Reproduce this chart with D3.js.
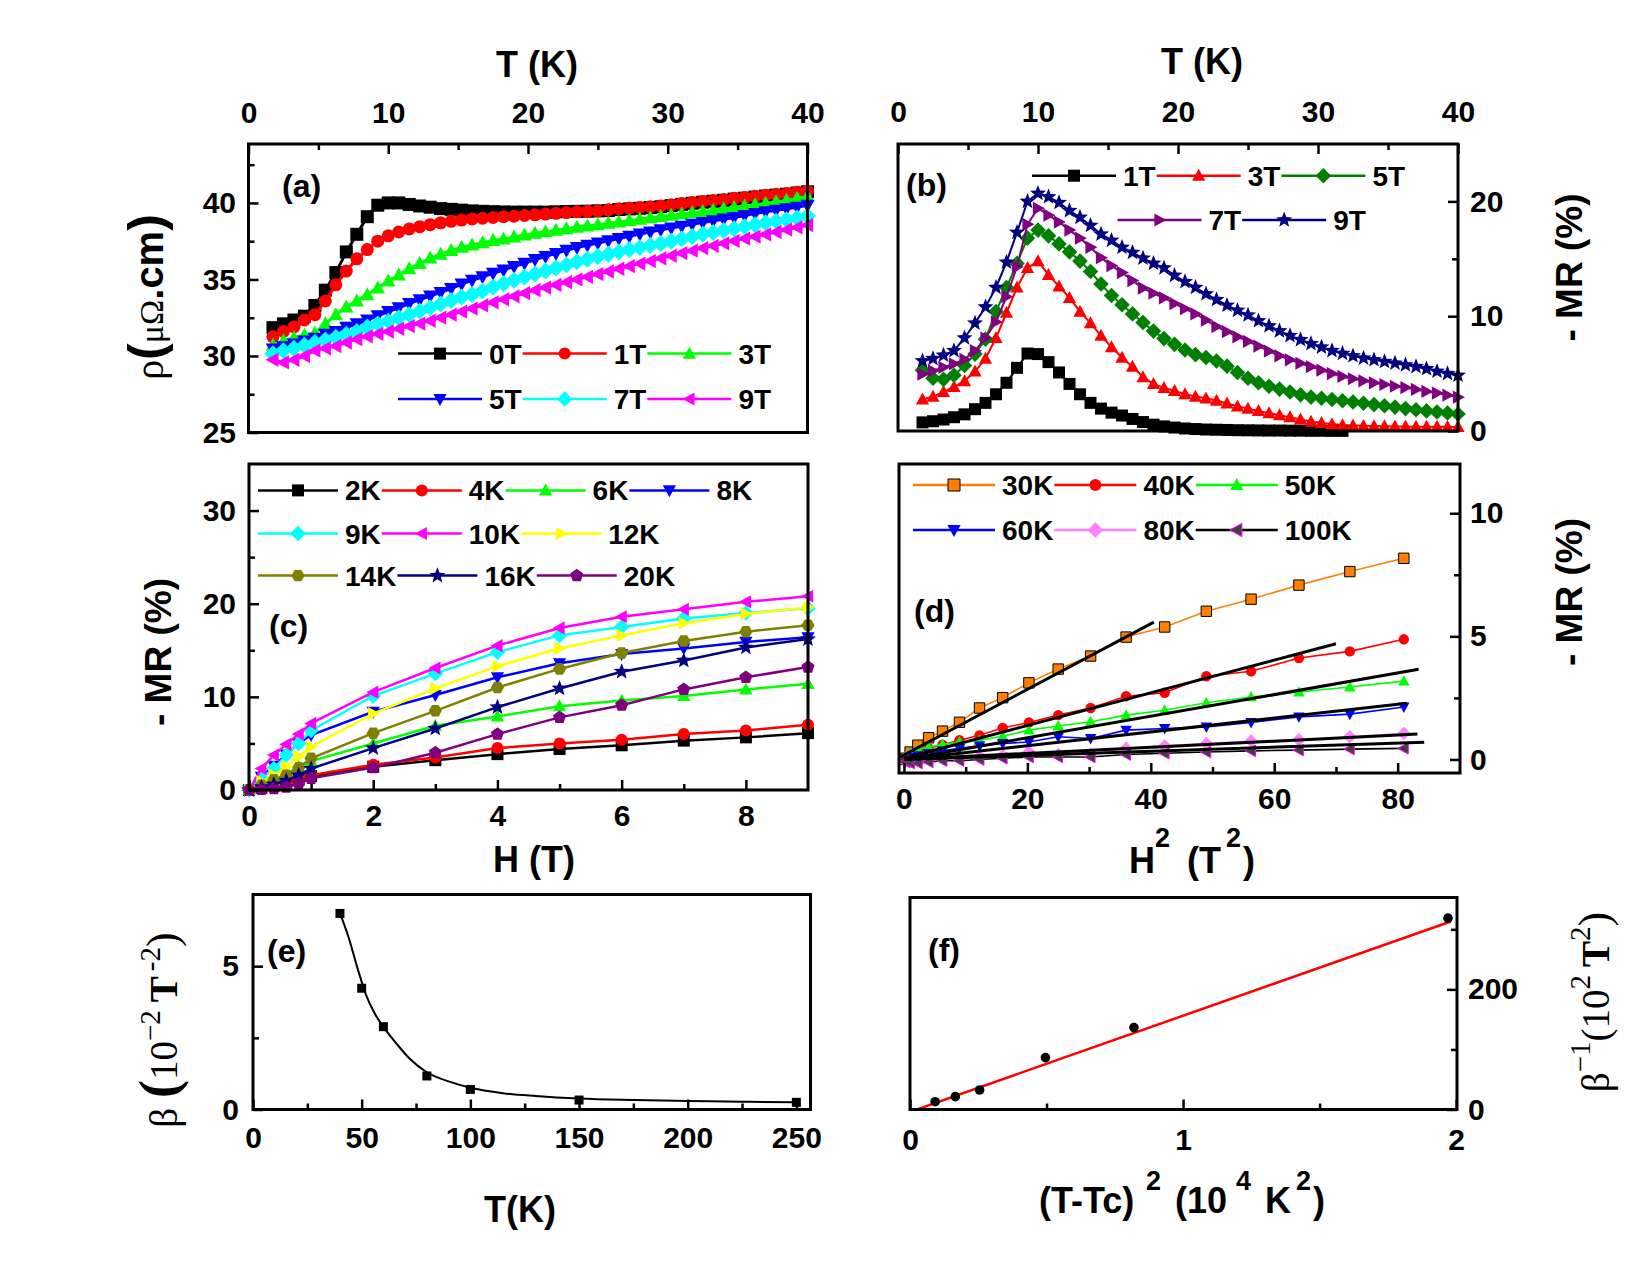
<!DOCTYPE html>
<html><head><meta charset="utf-8">
<script src="https://cdn.jsdelivr.net/npm/d3@7"></script>
<style>html,body{margin:0;padding:0;background:#fff;}</style>
</head><body>
<svg id="c" width="1650" height="1275" xmlns="http://www.w3.org/2000/svg"></svg>
<script>
// ================= DATA =================
// Panels (a) and (b): temperature sweep (K)
const tGrid = [1.75,2.5,3.25,4,4.75,5.5,6.25,7,7.75,8.5,9.25,10,10.75,11.5,12.25,13,13.75,14.5,15.25,16,16.75,17.5,18.25,19,19.75,20.5,21.25,22,22.75,23.5,24.25,25,25.75,26.5,27.25,28,28.75,29.5,30.25,31,31.75,32.5,33.25,34,34.75,35.5,36.25,37,37.75,38.5,39.25,40];
// (a) resistivity (µΩ.cm)
const rhoLabels = ["0T","1T","3T","5T","7T","9T"];
const rho0T = [31.85,32.1,32.35,32.6,33.3,34.3,35.45,36.8,37.95,39.1,39.85,40.0,40.0,39.9,39.8,39.72,39.63,39.58,39.53,39.48,39.45,39.43,39.41,39.4,39.4,39.4,39.4,39.42,39.44,39.45,39.46,39.48,39.5,39.57,39.61,39.65,39.7,39.75,39.83,39.91,39.98,40.05,40.11,40.17,40.25,40.31,40.38,40.45,40.51,40.57,40.65,40.73];
const rho1T = [31.25,31.6,31.9,32.35,32.7,33.6,34.65,35.55,36.35,36.95,37.5,37.85,38.1,38.3,38.45,38.58,38.7,38.8,38.88,38.95,39.0,39.05,39.1,39.13,39.18,39.22,39.27,39.32,39.37,39.42,39.45,39.48,39.55,39.62,39.66,39.7,39.75,39.8,39.88,39.96,40.03,40.1,40.16,40.22,40.3,40.36,40.43,40.5,40.56,40.62,40.7,40.78];
const rho3T = [30.7,31.0,31.2,31.35,31.5,32.1,32.7,33.2,33.6,34.0,34.45,34.9,35.3,35.7,36.05,36.4,36.65,36.9,37.1,37.25,37.4,37.55,37.65,37.78,37.9,38.02,38.12,38.22,38.32,38.42,38.5,38.58,38.68,38.76,38.84,38.93,39.03,39.12,39.2,39.28,39.36,39.44,39.53,39.62,39.7,39.8,39.88,39.98,40.08,40.18,40.3,40.42];
const rho5T = [30.45,30.6,30.78,30.97,31.15,31.42,31.6,31.88,32.1,32.35,32.62,32.9,33.15,33.42,33.68,33.92,34.15,34.4,34.7,34.95,35.17,35.4,35.62,35.85,36.05,36.3,36.5,36.7,36.9,37.08,37.23,37.38,37.53,37.68,37.82,37.96,38.1,38.24,38.36,38.48,38.6,38.72,38.83,38.94,39.05,39.17,39.3,39.42,39.52,39.62,39.72,39.84];
const rho7T = [30.15,30.35,30.5,30.7,30.88,31.05,31.22,31.42,31.6,31.9,32.1,32.28,32.5,32.7,32.93,33.15,33.4,33.62,33.85,34.02,34.25,34.5,34.73,34.95,35.15,35.35,35.55,35.75,35.95,36.15,36.32,36.5,36.65,36.8,36.95,37.08,37.22,37.35,37.5,37.65,37.8,37.95,38.07,38.2,38.32,38.45,38.57,38.7,38.8,38.9,39.02,39.15];
const rho9T = [29.75,29.58,29.75,30.0,30.35,30.5,30.65,30.88,31.1,31.28,31.45,31.6,31.78,31.95,32.12,32.3,32.5,32.7,32.9,33.1,33.3,33.5,33.7,33.9,34.1,34.3,34.47,34.65,34.82,35.0,35.17,35.35,35.52,35.7,35.87,36.04,36.2,36.38,36.55,36.72,36.88,37.05,37.2,37.36,37.52,37.67,37.8,37.95,38.1,38.25,38.4,38.55];
// (b) -MR (%) vs T
const mrTLabels = ["1T","3T","5T","7T","9T"];
const mrT1 = [0.75,0.85,1.0,1.2,1.45,1.9,2.45,3.2,4.2,5.5,6.75,6.7,6.0,5.1,4.1,3.2,2.45,1.95,1.6,1.35,1.05,0.78,0.55,0.4,0.3,0.22,0.17,0.13,0.11,0.09,0.07,0.06,0.05,0.04,0.04,0.03,0.03,0.02,0.02,0.01,0.01,null,null,null,null,null,null,null,null,null,null,null];
const mrT3 = [2.75,3.0,3.4,3.85,4.35,5.2,6.3,8.1,10.3,12.5,14.2,14.8,13.6,12.6,11.6,10.4,9.4,8.3,7.3,6.4,5.6,4.7,4.1,3.75,3.5,3.2,3.0,2.85,2.65,2.4,2.15,1.95,1.75,1.55,1.38,1.2,1.0,0.82,0.7,0.6,0.52,0.48,0.45,0.43,0.42,0.4,0.4,0.38,0.38,0.37,0.36,0.35];
const mrT5 = [5.3,4.6,4.5,4.85,5.7,6.7,8.0,10.4,12.5,14.6,16.8,17.5,17.0,16.3,15.6,14.8,13.9,12.8,11.8,11.0,10.2,9.45,8.7,8.05,7.55,7.05,6.65,6.4,6.1,5.65,5.1,4.6,4.2,3.9,3.65,3.4,3.15,2.95,2.85,2.75,2.63,2.52,2.42,2.3,2.2,2.08,1.95,1.85,1.75,1.65,1.57,1.48];
const mrT7 = [4.95,5.25,5.55,5.85,6.25,7.0,8.1,9.5,11.7,14.3,18.0,19.4,18.8,18.2,17.5,16.8,16.0,15.1,14.4,13.8,13.1,12.45,12.0,11.6,11.1,10.65,10.2,9.65,9.1,8.65,8.2,7.8,7.4,6.95,6.55,6.2,5.9,5.6,5.3,5.0,4.75,4.55,4.37,4.2,4.05,3.9,3.78,3.62,3.45,3.3,3.12,2.95];
const mrT9 = [6.1,6.3,6.6,7.0,8.1,9.4,10.8,12.5,14.7,17.3,20.0,20.7,20.4,19.9,19.2,18.6,17.9,17.15,16.6,16.0,15.55,15.05,14.6,14.2,13.55,13.0,12.5,11.95,11.45,10.95,10.5,10.1,9.6,9.15,8.72,8.3,7.95,7.6,7.3,7.0,6.75,6.55,6.35,6.2,6.05,5.9,5.75,5.6,5.42,5.2,5.0,4.85];
// (c) -MR (%) vs H (T)
const hField = [0,0.2,0.4,0.6,0.8,1,2,3,4,5,6,7,8,9];
const mrHLabels = ["2K","4K","6K","8K","9K","10K","12K","14K","16K","20K"];
const mrH2K  = [0,0.25,0.5,0.8,1.1,1.5,2.5,3.2,3.85,4.4,4.8,5.3,5.65,6.1];
const mrH4K  = [0,0.3,0.6,0.9,1.2,1.6,2.7,3.5,4.5,5.0,5.4,6.0,6.4,7.0];
const mrH6K  = [0,0.4,1.0,1.7,2.5,3.1,5.0,6.9,7.9,9.0,9.6,10.1,10.8,11.4];
const mrH8K  = [0,1.4,2.6,3.8,5.0,5.9,8.4,10.2,12.1,13.6,14.6,15.2,15.9,16.4];
const mrH9K  = [0,1.25,2.3,3.75,5.0,6.4,10.1,12.5,14.8,16.6,17.5,18.4,19.0,19.5];
const mrH10K = [0,2.3,3.75,4.9,6.0,7.15,10.5,13.1,15.5,17.4,18.6,19.4,20.2,20.8];
const mrH12K = [0,0.9,1.6,2.5,3.6,4.65,8.2,10.9,13.3,15.2,16.6,17.9,18.9,19.6];
const mrH14K = [0,0.5,1.1,1.6,2.4,3.4,6.1,8.5,11.0,13.0,14.7,16.0,17.0,17.7];
const mrH16K = [0,0.3,0.6,1.0,1.6,2.3,4.5,6.6,8.9,10.9,12.7,13.9,15.3,16.2];
const mrH20K = [0,0.05,0.15,0.3,0.7,1.25,2.4,4.0,6.0,7.8,9.1,10.8,12.1,13.2];
// (d) -MR (%) vs H^2 (T^2)
const hSquared = [0,0.25,1,2.25,4,6.25,9,12.25,16,20.25,25,30.25,36,42.25,49,56.25,64,72.25,81];
const mrH2Labels = ["30K","40K","50K","60K","80K","100K"];
const mrQ30K  = [0,0.05,0.3,0.58,0.88,1.15,1.51,2.09,2.51,3.11,3.67,4.2,4.97,5.38,6.02,6.51,7.08,7.63,8.17];
const mrQ40K  = [0,0.03,0.15,0.3,0.45,0.6,0.78,0.98,1.28,1.5,1.8,2.09,2.57,2.71,3.38,3.58,4.12,4.39,4.88];
const mrQ50K  = [0,0.1,0.25,0.4,0.5,0.61,0.71,0.78,0.94,1.19,1.36,1.53,1.8,2.0,2.3,2.54,2.74,2.94,3.18];
const mrQ60K  = [0,0.02,0.08,0.15,0.25,0.35,0.45,0.55,0.65,0.71,0.92,0.85,1.19,1.26,1.32,1.5,1.73,1.84,2.13];
const mrQ80K  = [0,-0.05,-0.1,-0.05,0,0.05,0.05,0.1,0.15,0.3,0.2,0.2,0.45,0.55,0.65,0.75,0.8,0.92,1.05];
const mrQ100K = [0,-0.1,-0.15,-0.15,-0.1,-0.05,-0.05,0,0.05,0.1,0.1,0.1,0.2,0.25,0.3,0.35,0.38,0.42,0.45];
// (d) linear fits: [x0, y0, x1, y1]
const fit30K  = [-0.6,0.1,40.5,5.58];
const fit40K  = [0,0.05,70,4.7];
const fit50K  = [0,0,83.4,3.66];
const fit60K  = [0,0,81.5,2.28];
const fit80K  = [0,0,83.2,1.03];
const fit100K = [0,0,84.3,0.7];
// (e) beta vs T
const betaT = [40,50,60,80,100,150,250];
const betaVal = [6.84,4.23,2.89,1.17,0.70,0.33,0.25];
const betaFitT = [40,44,48,52,56,60,66,72,80,90,100,115,130,150,175,200,225,250];
const betaFitV = [6.85,6.0,4.95,4.0,3.35,2.88,2.3,1.78,1.3,0.98,0.76,0.57,0.47,0.38,0.33,0.3,0.27,0.25];
// (f) 1/beta vs (T-Tc)^2
const dT2 = [0.092,0.166,0.255,0.496,0.82,1.97];
const invBeta = [13,21.4,32.5,86.4,136.4,318.6];
const invBetaFit = [0.026,0.3,1.98,313];
// Tick labels
const ticksT = [0,10,20,30,40];
const ticksRho = [25,30,35,40];
const ticksMRb = [0,10,20];
const ticksMRc = [0,10,20,30];
const ticksH = [0,2,4,6,8];
const ticksMRd = [0,5,10];
const ticksH2 = [0,20,40,60,80];
const ticksTe = [0,50,100,150,200,250];
const ticksBeta = [0,5];
const ticksDT2 = [0,1,2];
const ticksInv = [0,200];

// ================= DRAWING =================
const SANS = '"Liberation Sans", Arial, Helvetica, sans-serif';
const SERIF = '"Liberation Serif", "Times New Roman", serif';
const svg = d3.select("#c");
svg.append("rect").attr("width",1650).attr("height",1275).attr("fill","#fff");

function makePanel(o){
  const g = svg.append("g");
  const xs = d3.scaleLinear().domain(o.xd).range([o.x0,o.x1]);
  const ys = d3.scaleLinear().domain(o.yd).range([o.y1,o.y0]);
  return Object.assign({g,xs,ys},o);
}
function addAxis(p, side, major, minor, pad){
  const horiz = side==="top"||side==="bottom";
  const sc = horiz ? p.xs : p.ys;
  const mk = {top:d3.axisTop,bottom:d3.axisBottom,left:d3.axisLeft,right:d3.axisRight}[side];
  const pos = {top:`translate(0,${p.y0})`,bottom:`translate(0,${p.y1})`,left:`translate(${p.x0},0)`,right:`translate(${p.x1},0)`}[side];
  if(minor){
    const gm = p.g.append("g").attr("transform",pos).call(mk(sc).tickValues(minor).tickSize(-6).tickFormat(()=>""));
    gm.select(".domain").remove();
    gm.selectAll("line").attr("stroke","#000").attr("stroke-width",2.5);
  }
  const ga = p.g.append("g").attr("transform",pos)
    .call(mk(sc).tickValues(major).tickSize(-10).tickPadding(pad).tickFormat(d3.format("d")));
  ga.select(".domain").remove();
  ga.attr("font-family",SANS).attr("font-size",30).attr("font-weight","bold");
  ga.selectAll("line").attr("stroke","#000").attr("stroke-width",2.5);
  ga.selectAll("text").attr("fill","#000");
}
function frame(p){
  p.g.append("rect").attr("x",p.x0).attr("y",p.y0).attr("width",p.x1-p.x0).attr("height",p.y1-p.y0)
    .attr("fill","none").attr("stroke","#000").attr("stroke-width",3);
}
function polyPath(n,R,rot,inner){
  const pts=[];
  const m = inner? 2*n : n;
  for(let i=0;i<m;i++){
    const a = rot + Math.PI*2*i/m;
    const rr = inner ? (i%2===0?R:inner) : R;
    pts.push([rr*Math.sin(a), -rr*Math.cos(a)]);
  }
  return "M"+pts.map(q=>q[0].toFixed(2)+","+q[1].toFixed(2)).join("L")+"Z";
}
function markerPath(type,r){
  switch(type){
    case "square": return `M${-r},${-r}H${r}V${r}H${-r}Z`;
    case "circle": return `M${r},0A${r},${r} 0 1,1 ${-r},0A${r},${r} 0 1,1 ${r},0Z`;
    case "triUp": return `M0,${-1.15*r}L${1.1*r},${0.85*r}L${-1.1*r},${0.85*r}Z`;
    case "triDown": return `M0,${1.15*r}L${1.1*r},${-0.85*r}L${-1.1*r},${-0.85*r}Z`;
    case "triLeft": return `M${-1.15*r},0L${0.85*r},${-1.1*r}L${0.85*r},${1.1*r}Z`;
    case "triRight": return `M${1.15*r},0L${-0.85*r},${-1.1*r}L${-0.85*r},${1.1*r}Z`;
    case "diamond": return `M0,${-1.3*r}L${1.3*r},0L0,${1.3*r}L${-1.3*r},0Z`;
    case "star": return polyPath(5,1.4*r,0,0.6*r);
    case "hexagon": return polyPath(6,1.1*r,Math.PI/6);
    case "pentagon": return polyPath(5,1.15*r,0);
  }
}
function drawSeries(p, xv, yv, s){
  const pts = xv.map((x,i)=>[x,yv[i]]).filter(d=>d[1]!=null);
  p.g.append("path").datum(pts)
    .attr("d", d3.line().x(d=>p.xs(d[0])).y(d=>p.ys(d[1])))
    .attr("fill","none").attr("stroke", s.line||s.color).attr("stroke-width", s.lw||2);
  p.g.append("g").selectAll("path").data(pts).join("path")
    .attr("transform", d=>`translate(${p.xs(d[0])},${p.ys(d[1])})`)
    .attr("d", markerPath(s.type, s.r))
    .attr("fill", s.color)
    .attr("stroke", s.stroke||"none").attr("stroke-width", s.sw||1);
}
function legend(g, x, y, entries, len, r){
  let cx = x;
  entries.forEach(e=>{
    g.append("line").attr("x1",cx).attr("x2",cx+len).attr("y1",y).attr("y2",y)
      .attr("stroke", e.line||e.color).attr("stroke-width", 2.5);
    g.append("path").attr("transform",`translate(${cx+len/2},${y})`).attr("d",markerPath(e.type,r))
      .attr("fill",e.color).attr("stroke",e.stroke||"none").attr("stroke-width",e.sw||1);
    const t = g.append("text").attr("x",cx+len+7).attr("y",y).attr("dy","0.36em")
      .attr("font-family",SANS).attr("font-weight","bold").attr("font-size",28).attr("fill","#000").text(e.label);
    cx = cx+len+7+t.node().getComputedTextLength()+1;
  });
}
function label(g,x,y,txt,size,anchor){
  return g.append("text").attr("x",x).attr("y",y).attr("font-family",SANS).attr("font-weight","bold")
    .attr("font-size",size).attr("text-anchor",anchor||"middle").attr("fill","#000").text(txt);
}

// ---------- Panel (a) ----------
const pa = makePanel({x0:248.5,x1:807.5,y0:144,y1:432.5,xd:[0,40],yd:[25,43.85]});
const seriesA = [
  {lbl:rhoLabels[0], v:rho0T, color:"#000000", type:"square"},
  {lbl:rhoLabels[1], v:rho1T, color:"#FF0000", type:"circle"},
  {lbl:rhoLabels[2], v:rho3T, color:"#00FF00", type:"triUp"},
  {lbl:rhoLabels[3], v:rho5T, color:"#0000FF", type:"triDown"},
  {lbl:rhoLabels[4], v:rho7T, color:"#00FFFF", type:"diamond"},
  {lbl:rhoLabels[5], v:rho9T, color:"#FF00FF", type:"triLeft"}];
seriesA.forEach(s=>drawSeries(pa,tGrid,s.v,{color:s.color,type:s.type,r:6.5,lw:3}));
addAxis(pa,"top",ticksT,[5,15,25,35],21);
addAxis(pa,"left",ticksRho,[27.5,32.5,37.5,42.5],12.5);
frame(pa);
legend(pa.g,398,353.6,seriesA.slice(0,3).map(s=>({label:s.lbl,color:s.color,type:s.type})),84,6);
legend(pa.g,398,399,seriesA.slice(3).map(s=>({label:s.lbl,color:s.color,type:s.type})),84,6);
label(pa.g,282,197,"(a)",32,"start");
label(pa.g,537,77,"T (K)",36);
{
  const t = pa.g.append("text").attr("transform","translate(163,297) rotate(-90)").attr("text-anchor","middle").attr("fill","#000");
  t.append("tspan").attr("font-family",SERIF).attr("font-size",40).text("ρ");
  t.append("tspan").attr("font-family",SANS).attr("font-weight","bold").attr("font-size",50).text("(");
  t.append("tspan").attr("font-family",SERIF).attr("font-size",34).text("μΩ");
  t.append("tspan").attr("font-family",SANS).attr("font-weight","bold").attr("font-size",40).text(".cm");
  t.append("tspan").attr("font-family",SANS).attr("font-weight","bold").attr("font-size",50).text(")");
}

// ---------- Panel (b) ----------
const pb = makePanel({x0:898,x1:1458,y0:144,y1:431,xd:[0,40],yd:[0,25]});
const seriesB = [
  {lbl:mrTLabels[0], v:mrT1, color:"#000000", type:"square"},
  {lbl:mrTLabels[1], v:mrT3, color:"#FF0000", type:"triUp"},
  {lbl:mrTLabels[2], v:mrT5, color:"#008000", type:"diamond"},
  {lbl:mrTLabels[3], v:mrT7, color:"#800080", type:"triRight"},
  {lbl:mrTLabels[4], v:mrT9, color:"#000080", type:"star"}];
seriesB.forEach(s=>drawSeries(pb,tGrid,s.v,{color:s.color,type:s.type,r:6,lw:2}));
addAxis(pb,"top",ticksT,[5,15,25,35],22);
addAxis(pb,"right",ticksMRb,[5,15],12);
frame(pb);
legend(pb.g,1032,175.7,seriesB.slice(0,3).map(s=>({label:s.lbl,color:s.color,type:s.type})),84,6);
legend(pb.g,1117.5,220,seriesB.slice(3).map(s=>({label:s.lbl,color:s.color,type:s.type})),84,6);
label(pb.g,906,196,"(b)",32,"start");
label(pb.g,1202,74,"T (K)",36);
pb.g.append("text").attr("transform","translate(1582,267.5) rotate(-90)").attr("text-anchor","middle")
  .attr("font-family",SANS).attr("font-weight","bold").attr("font-size",37).attr("fill","#000").text("- MR (%)");

// ---------- Panel (c) ----------
const pc = makePanel({x0:249,x1:808,y0:464,y1:790,xd:[0,9],yd:[0,35]});
const seriesC = [
  {lbl:mrHLabels[0], v:mrH2K, color:"#000000", type:"square"},
  {lbl:mrHLabels[1], v:mrH4K, color:"#FF0000", type:"circle"},
  {lbl:mrHLabels[2], v:mrH6K, color:"#00FF00", type:"triUp"},
  {lbl:mrHLabels[3], v:mrH8K, color:"#0000FF", type:"triDown"},
  {lbl:mrHLabels[4], v:mrH9K, color:"#00FFFF", type:"diamond"},
  {lbl:mrHLabels[5], v:mrH10K, color:"#FF00FF", type:"triLeft"},
  {lbl:mrHLabels[6], v:mrH12K, color:"#FFFF00", type:"triRight"},
  {lbl:mrHLabels[7], v:mrH14K, color:"#808000", type:"hexagon"},
  {lbl:mrHLabels[8], v:mrH16K, color:"#000080", type:"star"},
  {lbl:mrHLabels[9], v:mrH20K, color:"#800080", type:"pentagon"}];
seriesC.forEach(s=>drawSeries(pc,hField,s.v,{color:s.color,type:s.type,r:6,lw:2.5}));
addAxis(pc,"left",ticksMRc,[5,15,25],13);
addAxis(pc,"bottom",ticksH,[1,3,5,7],14.4);
frame(pc);
const legC = seriesC.map(s=>({label:s.lbl,color:s.color,type:s.type}));
legend(pc.g,258,490.4,legC.slice(0,4),80,6);
legend(pc.g,258,533.5,legC.slice(4,7),80,6);
legend(pc.g,258,575.6,legC.slice(7),80,6);
label(pc.g,269,637,"(c)",32,"start");
label(pc.g,534,872,"H (T)",36);
pc.g.append("text").attr("transform","translate(171,652) rotate(-90)").attr("text-anchor","middle")
  .attr("font-family",SANS).attr("font-weight","bold").attr("font-size",37).attr("fill","#000").text("- MR (%)");

// ---------- Panel (d) ----------
const pd = makePanel({x0:899,x1:1460,y0:464,y1:773,xd:[-0.8,90.1],yd:[-0.55,12]});
const seriesD = [
  {lbl:mrH2Labels[0], v:mrQ30K, color:"#FF8000", type:"square", stroke:"#000", sw:1},
  {lbl:mrH2Labels[1], v:mrQ40K, color:"#FF0000", type:"circle"},
  {lbl:mrH2Labels[2], v:mrQ50K, color:"#00FF00", type:"triUp"},
  {lbl:mrH2Labels[3], v:mrQ60K, color:"#0000FF", type:"triDown"},
  {lbl:mrH2Labels[4], v:mrQ80K, color:"#FF80FF", type:"diamond"},
  {lbl:mrH2Labels[5], v:mrQ100K, color:"#404040", type:"triLeft", stroke:"#FF00FF", sw:1, line:"#000"}];
seriesD.forEach(s=>drawSeries(pd,hSquared,s.v,{color:s.color,type:s.type,r:5.2,lw:1.6,stroke:s.stroke,sw:s.sw,line:s.line}));
[fit30K,fit40K,fit50K,fit60K,fit80K,fit100K].forEach(f=>{
  pd.g.append("line").attr("x1",pd.xs(f[0])).attr("y1",pd.ys(f[1])).attr("x2",pd.xs(f[2])).attr("y2",pd.ys(f[3]))
    .attr("stroke","#000").attr("stroke-width",3);
});
addAxis(pd,"right",ticksMRd,[2.5,7.5],10);
addAxis(pd,"bottom",ticksH2,[10,30,50,70],14.4);
frame(pd);
const legD = seriesD.map(s=>({label:s.lbl,color:s.color,type:s.type,stroke:s.stroke,sw:s.sw,line:s.line}));
legend(pd.g,913,485,legD.slice(0,3),82,6);
legend(pd.g,913,530,legD.slice(3),82,6);
label(pd.g,914,622,"(d)",32,"start");
{
  const t = pd.g.append("text").attr("y",873).attr("font-family",SANS).attr("font-weight","bold").attr("font-size",36).attr("fill","#000");
  t.append("tspan").attr("x",1129).text("H");
  t.append("tspan").attr("x",1155).attr("font-size",27).attr("dy",-26).text("2");
  t.append("tspan").attr("x",1187).attr("dy",26).text("(T");
  t.append("tspan").attr("x",1226).attr("font-size",27).attr("dy",-26).text("2");
  t.append("tspan").attr("x",1243).attr("dy",26).text(")");
}
pd.g.append("text").attr("transform","translate(1582,592) rotate(-90)").attr("text-anchor","middle")
  .attr("font-family",SANS).attr("font-weight","bold").attr("font-size",37).attr("fill","#000").text("- MR (%)");

// ---------- Panel (e) ----------
const pe = makePanel({x0:253,x1:810.5,y0:894.5,y1:1109.5,xd:[0,256.5],yd:[0,7.5]});
pe.g.append("path").datum(betaFitT.map((t,i)=>[t,betaFitV[i]]))
  .attr("d", d3.line().curve(d3.curveMonotoneX).x(d=>pe.xs(d[0])).y(d=>pe.ys(d[1])))
  .attr("fill","none").attr("stroke","#000").attr("stroke-width",2);
pe.g.append("g").selectAll("path").data(betaT.map((t,i)=>[t,betaVal[i]])).join("path")
  .attr("transform",d=>`translate(${pe.xs(d[0])},${pe.ys(d[1])})`).attr("d",markerPath("square",4.5)).attr("fill","#000");
addAxis(pe,"left",ticksBeta,[2.5],14);
addAxis(pe,"bottom",ticksTe,[25,75,125,175,225],17.4);
frame(pe);
label(pe.g,267,962,"(e)",32,"start");
label(pe.g,520,1222,"T(K)",36);
{
  const t = pe.g.append("text").attr("transform","translate(177,1030) rotate(-90)").attr("text-anchor","middle")
    .attr("font-family",SERIF).attr("font-size",39).attr("fill","#000");
  t.append("tspan").text("β ");
  t.append("tspan").attr("font-size",54).attr("font-weight","bold").text("(");
  t.append("tspan").text("10");
  t.append("tspan").attr("font-size",29).attr("dy",-17).text("−2");
  t.append("tspan").attr("dy",17).attr("dx",8).attr("font-weight","bold").text("T");
  t.append("tspan").attr("font-size",29).attr("dy",-17).attr("dx",5).text("-2");
  t.append("tspan").attr("dy",17).attr("font-size",44).text(")");
}

// ---------- Panel (f) ----------
const pf = makePanel({x0:910,x1:1457,y0:897.5,y1:1109.5,xd:[0,2.003],yd:[0,353]});
pf.g.append("line").attr("x1",pf.xs(invBetaFit[0])).attr("y1",pf.ys(invBetaFit[1]))
  .attr("x2",pf.xs(invBetaFit[2])).attr("y2",pf.ys(invBetaFit[3])).attr("stroke","#FF0000").attr("stroke-width",2.5);
pf.g.append("g").selectAll("path").data(dT2.map((x,i)=>[x,invBeta[i]])).join("path")
  .attr("transform",d=>`translate(${pf.xs(d[0])},${pf.ys(d[1])})`).attr("d",markerPath("circle",4.8)).attr("fill","#000");
addAxis(pf,"right",ticksInv,[100,300],11);
addAxis(pf,"bottom",ticksDT2,[0.5,1.5],18.9);
frame(pf);
label(pf.g,928,961,"(f)",32,"start");
{
  const t = pf.g.append("text").attr("y",1213).attr("font-family",SANS).attr("font-weight","bold").attr("font-size",36).attr("fill","#000");
  t.append("tspan").attr("x",1039).text("(T-Tc)");
  t.append("tspan").attr("x",1146).attr("font-size",27).attr("dy",-23).text("2");
  t.append("tspan").attr("x",1175).attr("dy",23).text("(10");
  t.append("tspan").attr("x",1236).attr("font-size",27).attr("dy",-23).text("4");
  t.append("tspan").attr("x",1265).attr("dy",23).text("K");
  t.append("tspan").attr("x",1296).attr("font-size",27).attr("dy",-23).text("2");
  t.append("tspan").attr("x",1313).attr("dy",23).text(")");
}
{
  const t = pf.g.append("text").attr("transform","translate(1609,1002) rotate(-90)").attr("text-anchor","middle")
    .attr("font-family",SERIF).attr("font-size",39).attr("fill","#000");
  t.append("tspan").text("β");
  t.append("tspan").attr("font-size",29).attr("dy",-19).text("−1");
  t.append("tspan").attr("dy",19).text("(10");
  t.append("tspan").attr("font-size",29).attr("dy",-19).text("2");
  t.append("tspan").attr("dy",19).attr("dx",8).attr("font-weight","bold").text("T");
  t.append("tspan").attr("font-size",29).attr("dy",-19).text("2");
  t.append("tspan").attr("dy",19).attr("font-size",44).text(")");
}
</script>
</body></html>
